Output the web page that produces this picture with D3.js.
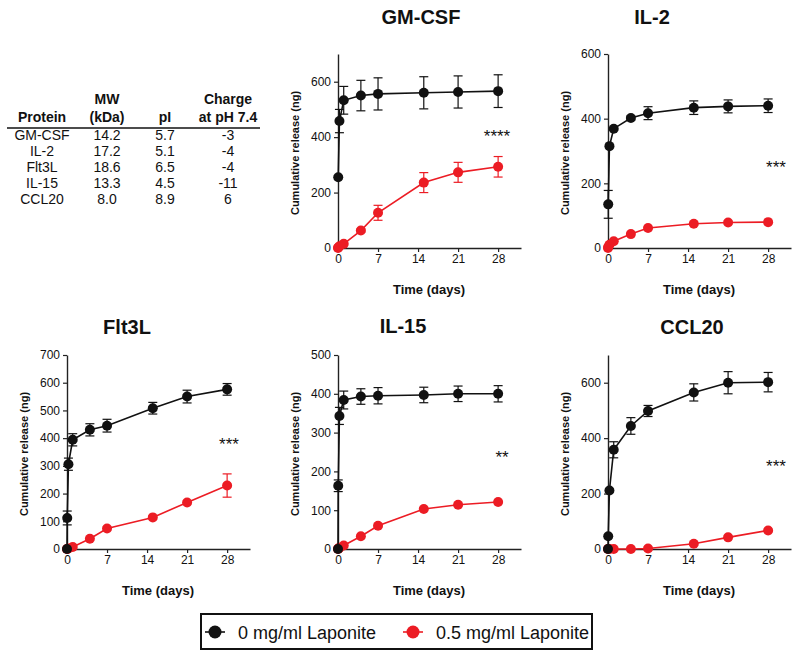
<!DOCTYPE html>
<html><head><meta charset="utf-8">
<script src="https://cdn.jsdelivr.net/npm/d3@7"></script>
<style>
body{margin:0;background:#fff}
svg{display:block}
text{font-family:"Liberation Sans",Arial,Helvetica,sans-serif;fill:#111}
</style>
</head><body>
<svg id="chart" width="800" height="657"></svg>
<script>
// ---------- data ----------
const days = [0, 0.04, 0.25, 1, 4, 7, 15, 21, 28];
const xTicks = [0, 7, 14, 21, 28];

const gmcsf0     = [null, 255, 458, 533, 550, 556, 560, 563, 566];
const gmcsf0Err  = [0, 0, 42, 50, 55, 58, 58, 58, 59];
const gmcsf05    = [0, 2, 6, 15, 63, 127, 236, 273, 293];
const gmcsf05Err = [0, 0, 0, 0, 5, 27, 36, 36, 37];

const il20     = [null, 135, 315, 369, 402, 417, 434, 438, 440];
const il20Err  = [0, 43, 0, 0, 6, 20, 21, 20, 21];
const il205    = [0, 3, 10, 21, 43, 62, 75, 79, 80];
const il205Err = [0, 0, 0, 0, 0, 0, 0, 0, 0];

const flt3l0     = [0, 112, 306, 394, 430, 445, 508, 550, 576];
const flt3l0Err  = [0, 25, 22, 22, 22, 23, 21, 23, 21];
const flt3l05    = [0, 0, 2, 7, 37, 74, 114, 168, 229];
const flt3l05Err = [0, 0, 0, 0, 0, 0, 0, 0, 42];

const il150     = [0, 163, 343, 384, 393, 395, 397, 400, 400];
const il150Err  = [0, 15, 22, 23, 20, 21, 20, 20, 21];
const il1505    = [0, 1, 3, 9, 33, 60, 103, 114, 121];
const il1505Err = [0, 0, 0, 0, 0, 0, 0, 0, 0];

const ccl200     = [0, 46, 211, 358, 444, 498, 565, 600, 602];
const ccl200Err  = [0, 0, 0, 29, 30, 20, 31, 40, 35];
const ccl2005    = [0, 0, 0, 0, 0, 2, 19, 42, 67];
const ccl2005Err = [0, 0, 0, 0, 0, 0, 0, 0, 0];

const panelNames = ["GM-CSF", "IL-2", "Flt3L", "IL-15", "CCL20"];
const panelYMax  = [700, 600, 700, 500, 700];
const panelYTicks = [
  [0, 200, 400, 600],
  [0, 200, 400, 600],
  [0, 100, 200, 300, 400, 500, 600, 700],
  [0, 100, 200, 300, 400, 500],
  [0, 200, 400, 600]
];
const panelSig = ["****", "***", "***", "**", "***"];

const tableHeader1 = ["", "MW", "", "Charge"];
const tableHeader2 = ["Protein", "(kDa)", "pI", "at pH 7.4"];
const tableProteins = ["GM-CSF", "IL-2", "Flt3L", "IL-15", "CCL20"];
const tableMW = ["14.2", "17.2", "18.6", "13.3", "8.0"];
const tablePI = ["5.7", "5.1", "6.5", "4.5", "8.9"];
const tableCharge = ["-3", "-4", "-4", "-11", "6"];

const legendLabels = ["0 mg/ml Laponite", "0.5 mg/ml Laponite"];

// ---------- layout / style ----------
const BLACK = "#111111", RED = "#ec1c24";
const seriesData = [
  [gmcsf0, gmcsf0Err, gmcsf05, gmcsf05Err],
  [il20, il20Err, il205, il205Err],
  [flt3l0, flt3l0Err, flt3l05, flt3l05Err],
  [il150, il150Err, il1505, il1505Err],
  [ccl200, ccl200Err, ccl2005, ccl2005Err]
];
const layout = [
  {x0: 338, y0: 248, top: 54, titleX: 421, titleY: 24, sigX: 497, sigY: 132},
  {x0: 608, y0: 248, top: 54, titleX: 652, titleY: 24, sigX: 776, sigY: 163},
  {x0: 67,  y0: 549, top: 355, titleX: 127, titleY: 334, sigX: 229, sigY: 440},
  {x0: 338, y0: 549, top: 355, titleX: 403, titleY: 333, sigX: 502, sigY: 453},
  {x0: 608, y0: 549, top: 355, titleX: 692, titleY: 334, sigX: 776, sigY: 462}
];
const axisLen = 183;

const svg = d3.select("#chart");

// ---------- panels ----------
panelNames.forEach((name, i) => {
  const L = layout[i];
  const x = d3.scaleLinear().domain([0, 32]).range([L.x0, L.x0 + axisLen]);
  const y = d3.scaleLinear().domain([0, panelYMax[i]]).range([L.y0, L.top]);
  const g = svg.append("g");

  // axes
  const yAxis = d3.axisLeft(y).tickValues(panelYTicks[i]).tickSize(4).tickSizeOuter(0).tickPadding(3);
  const xAxis = d3.axisBottom(x).tickValues(xTicks).tickSize(4).tickSizeOuter(0).tickPadding(2);
  const ya = g.append("g").attr("transform", `translate(${L.x0},0)`).call(yAxis);
  const xa = g.append("g").attr("transform", `translate(0,${L.y0})`).call(xAxis);
  [ya, xa].forEach(a => {
    a.select(".domain").attr("stroke", "#222").attr("stroke-width", 1.4);
    a.selectAll(".tick line").attr("stroke", "#222").attr("stroke-width", 1.2);
    a.selectAll(".tick text").attr("font-size", 12).attr("fill", "#222")
      .style("font-family", '"Liberation Sans",Arial,sans-serif');
  });

  // title
  g.append("text").attr("x", L.titleX).attr("y", L.titleY).attr("text-anchor", "middle")
    .attr("font-size", 20).attr("font-weight", "bold").text(name);
  // y label
  g.append("text").attr("transform", `translate(${L.x0 - 39},${(L.y0 + L.top) / 2 + 2}) rotate(-90)`)
    .attr("text-anchor", "middle").attr("font-size", 11).attr("font-weight", "bold")
    .text("Cumulative release (ng)");
  // x label
  g.append("text").attr("x", L.x0 + 91).attr("y", L.y0 + 46).attr("text-anchor", "middle")
    .attr("font-size", 13).attr("font-weight", "bold").text("Time (days)");
  // significance
  g.append("text").attr("x", L.sigX).attr("y", L.sigY + 10).attr("text-anchor", "middle")
    .attr("font-size", 17).attr("fill", "#333").text(panelSig[i]);

  const [m0, e0, m5, e5] = seriesData[i];
  const series = [
    {means: m5, errs: e5, color: RED},
    {means: m0, errs: e0, color: BLACK}
  ];
  series.forEach(s => {
    const pts = days.map((d, k) => ({t: d, v: s.means[k], e: s.errs[k]})).filter(p => p.v != null);
    const line = d3.line().x(p => x(p.t)).y(p => y(p.v));
    g.append("path").datum(pts).attr("d", line).attr("fill", "none")
      .attr("stroke", s.color).attr("stroke-width", 1.6);
    const eb = g.append("g").attr("stroke", s.color).attr("stroke-width", 1.2);
    pts.filter(p => p.e > 0).forEach(p => {
      const cx = x(p.t);
      eb.append("line").attr("x1", cx).attr("x2", cx).attr("y1", y(p.v - p.e)).attr("y2", y(p.v + p.e));
      eb.append("line").attr("x1", cx - 4.5).attr("x2", cx + 4.5).attr("y1", y(p.v - p.e)).attr("y2", y(p.v - p.e));
      eb.append("line").attr("x1", cx - 4.5).attr("x2", cx + 4.5).attr("y1", y(p.v + p.e)).attr("y2", y(p.v + p.e));
    });
    g.append("g").selectAll("circle").data(pts).join("circle")
      .attr("cx", p => x(p.t)).attr("cy", p => y(p.v)).attr("r", 5).attr("fill", s.color);
  });
});

// ---------- table ----------
const colX = [42, 107, 165, 228];
const tg = svg.append("g").attr("font-size", 14);
tableHeader1.forEach((t, c) => {
  if (t) tg.append("text").attr("x", colX[c]).attr("y", 104).attr("text-anchor", "middle")
    .attr("font-weight", "bold").attr("font-size", 14).text(t);
});
tableHeader2.forEach((t, c) => {
  tg.append("text").attr("x", colX[c]).attr("y", 122).attr("text-anchor", "middle")
    .attr("font-weight", "bold").attr("font-size", 14).text(t);
});
tg.append("line").attr("x1", 7).attr("x2", 260).attr("y1", 128).attr("y2", 128)
  .attr("stroke", "#111").attr("stroke-width", 1.6);
const cols = [tableProteins, tableMW, tablePI, tableCharge];
tableProteins.forEach((_, r) => {
  cols.forEach((col, c) => {
    tg.append("text").attr("x", colX[c]).attr("y", 140 + r * 16).attr("text-anchor", "middle")
      .attr("font-size", 14).attr("fill", "#222").text(col[r]);
  });
});

// ---------- legend ----------
const lg = svg.append("g");
lg.append("rect").attr("x", 201).attr("y", 614).attr("width", 391).attr("height", 35)
  .attr("fill", "none").attr("stroke", "#111").attr("stroke-width", 2);
const legendColors = [BLACK, RED];
const legendX = [215, 413];
legendLabels.forEach((lab, i) => {
  lg.append("line").attr("x1", legendX[i] - 10).attr("x2", legendX[i] + 10)
    .attr("y1", 632).attr("y2", 632).attr("stroke", legendColors[i]).attr("stroke-width", 1.6);
  lg.append("circle").attr("cx", legendX[i]).attr("cy", 632).attr("r", 6.5).attr("fill", legendColors[i]);
  lg.append("text").attr("x", legendX[i] + 23).attr("y", 639).attr("font-size", 18).text(lab);
});
</script>
</body></html>
